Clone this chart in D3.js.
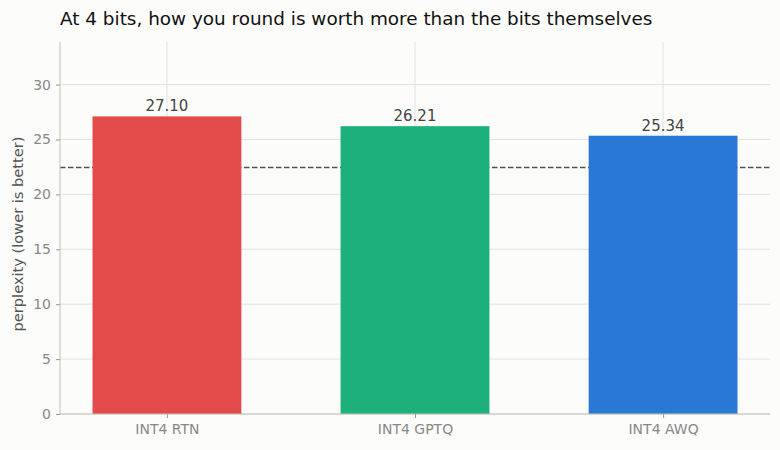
<!DOCTYPE html>
<html>
<head>
<meta charset="utf-8">
<script src="https://cdn.jsdelivr.net/npm/d3@7"></script>
<style>
  body { margin: 0; background: #fcfcfa; }
  svg { font-family: "DejaVu Sans", sans-serif; }
</style>
</head>
<body>
<div id="chart-area"></div>
<script>
// data
var categories = ["INT4 RTN", "INT4 GPTQ", "INT4 AWQ"];
var perplexity = [27.10, 26.21, 25.34];
var barColors  = ["#e34a4a", "#1db07a", "#2a78d6"];
var baseline   = 22.45;
var yTicks     = [0, 5, 10, 15, 20, 25, 30];

var svgWidth = 780, svgHeight = 450;
var margin = { top: 42, left: 60, bottom: 36, right: 10 };
var width  = svgWidth - margin.left - margin.right;
var height = svgHeight - margin.top - margin.bottom;

var svg = d3.select("#chart-area")
            .append("svg")
            .attr("width", svgWidth)
            .attr("height", svgHeight);

svg.append("rect")
   .attr("width", svgWidth)
   .attr("height", svgHeight)
   .attr("fill", "#fcfcfa");

// title
svg.append("text")
   .attr("x", 60)
   .attr("y", 25)
   .attr("font-size", "18.4px")
   .attr("fill", "#111")
   .text("At 4 bits, how you round is worth more than the bits themselves");

var g = svg.append("g")
           .attr("transform", "translate(" + margin.left + "," + margin.top + ")");

var x = d3.scalePoint()
          .domain(categories)
          .range([0, width])
          .padding(0.431);

var barWidth = x.step() * 0.6;

var y = d3.scaleLinear()
          .domain([0, d3.max(perplexity) * 1.25])
          .range([height, 0]);

// grid
g.selectAll(".hgrid")
 .data(yTicks)
 .enter().append("line")
 .attr("x1", 0).attr("x2", width)
 .attr("y1", (d) => y(d)).attr("y2", (d) => y(d))
 .attr("stroke", "#e2e2e0")
 .attr("stroke-width", 1);

g.selectAll(".vgrid")
 .data(categories)
 .enter().append("line")
 .attr("x1", (d) => x(d)).attr("x2", (d) => x(d))
 .attr("y1", 0).attr("y2", height)
 .attr("stroke", "#e2e2e0")
 .attr("stroke-width", 1);

// dashed baseline
g.append("line")
 .attr("x1", 0).attr("x2", width)
 .attr("y1", y(baseline)).attr("y2", y(baseline))
 .attr("stroke", "#505050")
 .attr("stroke-width", 1.5)
 .attr("stroke-dasharray", "5.5,2.5");

// bars
g.selectAll(".bar")
 .data(categories)
 .enter().append("rect")
 .attr("x", (d) => x(d) - barWidth / 2)
 .attr("width", barWidth)
 .attr("y", (d, i) => y(perplexity[i]))
 .attr("height", (d, i) => height - y(perplexity[i]))
 .attr("fill", (d, i) => barColors[i]);

// value labels
g.selectAll(".val")
 .data(categories)
 .enter().append("text")
 .attr("x", (d) => x(d))
 .attr("y", (d, i) => y(perplexity[i]) - 5)
 .attr("text-anchor", "middle")
 .attr("font-size", "15px")
 .attr("fill", "#444")
 .text((d, i) => perplexity[i].toFixed(2));

// axes
var yAxis = g.append("g")
             .call(d3.axisLeft(y).tickValues(yTicks).tickSize(4).tickPadding(5));
var xAxis = g.append("g")
             .attr("transform", "translate(0," + height + ")")
             .call(d3.axisBottom(x).tickSize(4).tickPadding(6));

[yAxis, xAxis].forEach(function(ax) {
  ax.select(".domain").attr("stroke", "#c2c2b4");
  ax.selectAll(".tick line").attr("stroke", "#9a9a90");
  ax.selectAll(".tick text")
    .attr("fill", "#888")
    .attr("font-size", "14px")
    .attr("font-family", "DejaVu Sans, sans-serif");
});
yAxis.select(".domain").attr("d", "M0," + height + "V0");
xAxis.select(".domain").attr("d", "M0,0H" + width);

// y label
g.append("text")
 .attr("transform", "translate(-37," + (height / 2 + 6) + ") rotate(-90)")
 .attr("text-anchor", "middle")
 .attr("font-size", "14.6px")
 .attr("fill", "#555")
 .text("perplexity (lower is better)");
</script>
</body>
</html>
